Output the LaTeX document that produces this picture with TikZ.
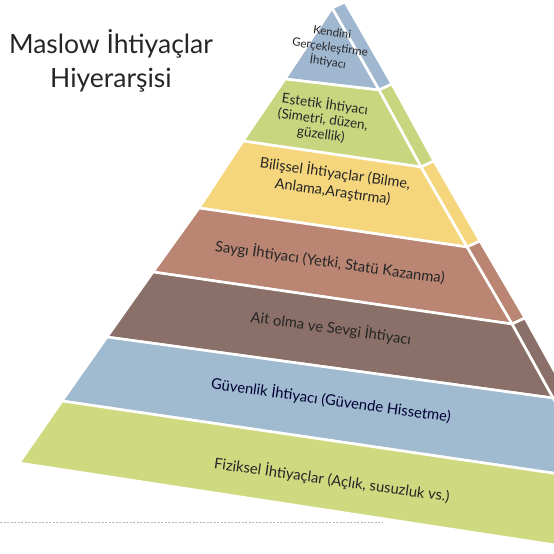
\documentclass[tikz,border=0pt]{standalone}
\usepackage{fontspec}
\setmainfont{Lato}

\definecolor{kblue}{HTML}{A0B7D0}
\definecolor{egreen}{HTML}{C9D680}
\definecolor{byellow}{HTML}{F6D67D}
\definecolor{ssalmon}{HTML}{BA8573}
\definecolor{abrown}{HTML}{8A7068}
\definecolor{gblue}{HTML}{A0BAD0}
\definecolor{fgreen}{HTML}{CFDA80}

\tikzset{
  layer/.style={draw=white, line width=2.6pt, line join=round},
  lbl/.style={rotate=-8, align=center, text=black!85, inner sep=0pt},
}

\begin{document}
\begin{tikzpicture}[x=1pt,y=-1pt]
\useasboundingbox (0,0) rectangle (554,554);
\begin{scope}
\clip (0,0) rectangle (554,554);
%%%%%%%%% corners of the front face
\coordinate (A) at (332,8);
\coordinate (L1) at (285,79);
\coordinate (L2) at (243,141);
\coordinate (L3) at (199,208);
\coordinate (L4) at (153,272);
\coordinate (L5) at (107,337);
\coordinate (L6) at (62,401);
\coordinate (L7) at (19,463);

\coordinate (R1) at (379,90);
\coordinate (R2) at (421,167);
\coordinate (R3) at (467,247);
\coordinate (R4) at (512,324);
\coordinate (R5) at (553,398);
\coordinate (R6) at (600,480);
\coordinate (R7) at (640,558);

%%%%%%%%% side face
\coordinate (S0) at (345,2);
\coordinate (S1) at (392,84);
\coordinate (S2) at (434,161);
\coordinate (S3) at (480,241);
\coordinate (S4) at (525,318);
\coordinate (S5) at (566,392);

\filldraw[layer, fill=kblue] (A) -- (R1) -- (S1) -- (S0) -- cycle;
\filldraw[layer, fill=egreen] (R1) -- (R2) -- (S2) -- (S1) -- cycle;
\filldraw[layer, fill=byellow] (R2) -- (R3) -- (S3) -- (S2) -- cycle;
\filldraw[layer, fill=ssalmon] (R3) -- (R4) -- (S4) -- (S3) -- cycle;
\filldraw[layer, fill=abrown] (R4) -- (R5) -- (S5) -- (S4) -- cycle;

%%%%%%%%% front face
\filldraw[layer, fill=kblue] (A) -- (R1) -- (L1) -- cycle;
\filldraw[layer, fill=egreen] (L1) -- (R1) -- (R2) -- (L2) -- cycle;
\filldraw[layer, fill=byellow] (L2) -- (R2) -- (R3) -- (L3) -- cycle;
\filldraw[layer, fill=ssalmon] (L3) -- (R3) -- (R4) -- (L4) -- cycle;
\filldraw[layer, fill=abrown] (L4) -- (R4) -- (R5) -- (L5) -- cycle;
\filldraw[layer, fill=gblue] (L5) -- (R5) -- (R6) -- (L6) -- cycle;
\filldraw[layer, fill=fgreen] (L6) -- (R6) -- (R7) -- (L7) -- cycle;
\end{scope}

%%%%%%%%% labels
\node[lbl, font=\fontsize{11.5}{15}\selectfont] (kendini) at (330,48)
  {Kendini\\Gerçekleştirme\\İhtiyacı};
\node[lbl, font=\fontsize{13.5}{15}\selectfont] (estetik) at (323,119)
  {Estetik İhtiyacı\\(Simetri, düzen,\\güzellik)};
\node[lbl, font=\fontsize{14.5}{18}\selectfont] (bilissel) at (334,182)
  {Bilişsel İhtiyaçlar (Bilme,\\Anlama,Araştırma)};
\node[lbl, font=\fontsize{14.8}{17}\selectfont] (saygi) at (330,262)
  {Saygı İhtiyacı (Yetki, Statü Kazanma)};
\node[lbl, font=\fontsize{14.8}{17}\selectfont] (ait) at (331,328)
  {Ait olma ve Sevgi İhtiyacı};
\node[lbl, font=\fontsize{14.8}{17}\selectfont, text=black!80!blue] (guven) at (331,400)
  {Güvenlik İhtiyacı (Güvende Hissetme)};
\node[lbl, font=\fontsize{14.8}{17}\selectfont] (fizik) at (332,480)
  {Fiziksel İhtiyaçlar (Açlık, susuzluk vs.)};

%%%%%%%%% title
\node[align=center, font=\fontsize{26.5}{34}\selectfont, text=black!85] (title) at (111,61)
  {Maslow İhtiyaçlar\\Hiyerarşisi};

%%%%%%%%% dotted rule
\coordinate (ruleL) at (0,522);
\coordinate (ruleR) at (382,522);
\draw[black!30, line width=0.8pt, dash pattern=on 2pt off 1.5pt] (ruleL) -- (ruleR);
\end{tikzpicture}
\end{document}
